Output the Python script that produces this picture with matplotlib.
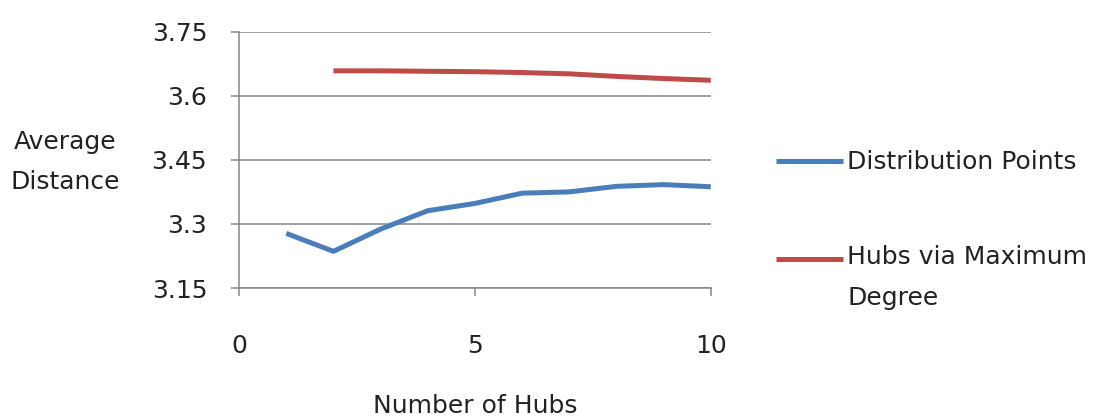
import matplotlib.pyplot as plt
from matplotlib.legend_handler import HandlerLine2D

hubs_dp = [1, 2, 3, 4, 5, 6, 7, 8, 9, 10]
dist_points = [3.278, 3.236, 3.288, 3.331, 3.348, 3.372, 3.375, 3.388, 3.392, 3.387]

hubs_md = [2, 3, 4, 5, 6, 7, 8, 9, 10]
max_degree = [3.658, 3.658, 3.657, 3.656, 3.654, 3.651, 3.645, 3.640, 3.636]

yticks = [3.15, 3.3, 3.45, 3.6, 3.75]
ytick_labels = ['3.15', '3.3', '3.45', '3.6', '3.75']
xticks = [0, 5, 10]

plt.rcParams['font.family'] = ['DejaVu Sans']
fs = 18


class TopLine(HandlerLine2D):
    # put the legend line next to the first line of a two-line label
    def create_artists(self, *args, **kwargs):
        arts = super().create_artists(*args, **kwargs)
        for a in arts:
            a.set_ydata([y + 14.4 for y in a.get_ydata()])
        return arts


fig = plt.figure(figsize=(11.02, 4.2), dpi=100)
ax = fig.add_axes([0.217, 0.314, 0.428, 0.611])

l1, = ax.plot(hubs_dp, dist_points, color='#4a7ebb', linewidth=3.6,
              solid_capstyle='butt', solid_joinstyle='round', label='Distribution Points')
l2, = ax.plot(hubs_md, max_degree, color='#be4b48', linewidth=3.6,
              solid_capstyle='butt', solid_joinstyle='round', label='Hubs via Maximum\nDegree')

ax.set_xlim(0, 10)
ax.set_ylim(3.15, 3.75)
ax.set_yticks(yticks)
ax.set_yticklabels(ytick_labels)
ax.set_xticks(xticks)

ax.grid(axis='y', color='#868686', linewidth=1.1)
ax.set_axisbelow(True)
for s in ['top', 'right']:
    ax.spines[s].set_visible(False)
for s in ['left', 'bottom']:
    ax.spines[s].set_color('#868686')
    ax.spines[s].set_linewidth(1.1)

ax.tick_params(axis='both', colors='#868686', labelcolor='#222222',
               labelsize=fs, length=6, width=1.1)
ax.tick_params(axis='y', pad=17)
ax.tick_params(axis='x', pad=27)

fig.text(0.059, 0.614, 'Average\nDistance', ha='center', va='center',
         fontsize=fs, color='#222222', linespacing=1.85)
fig.text(0.431, 0.033, 'Number of Hubs', ha='center', va='center',
         fontsize=fs, color='#222222')

leg = ax.legend(loc='upper left', bbox_to_anchor=(776 / 1102, 0.642),
                bbox_transform=fig.transFigure, frameon=False, borderpad=0,
                borderaxespad=0, fontsize=fs, handlelength=2.68, handletextpad=0.16,
                labelspacing=2.84, labelcolor='#222222', handler_map={l2: TopLine()})
for t in leg.get_texts():
    t.set_linespacing(1.9)

fig.savefig('out.png', dpi=100)
